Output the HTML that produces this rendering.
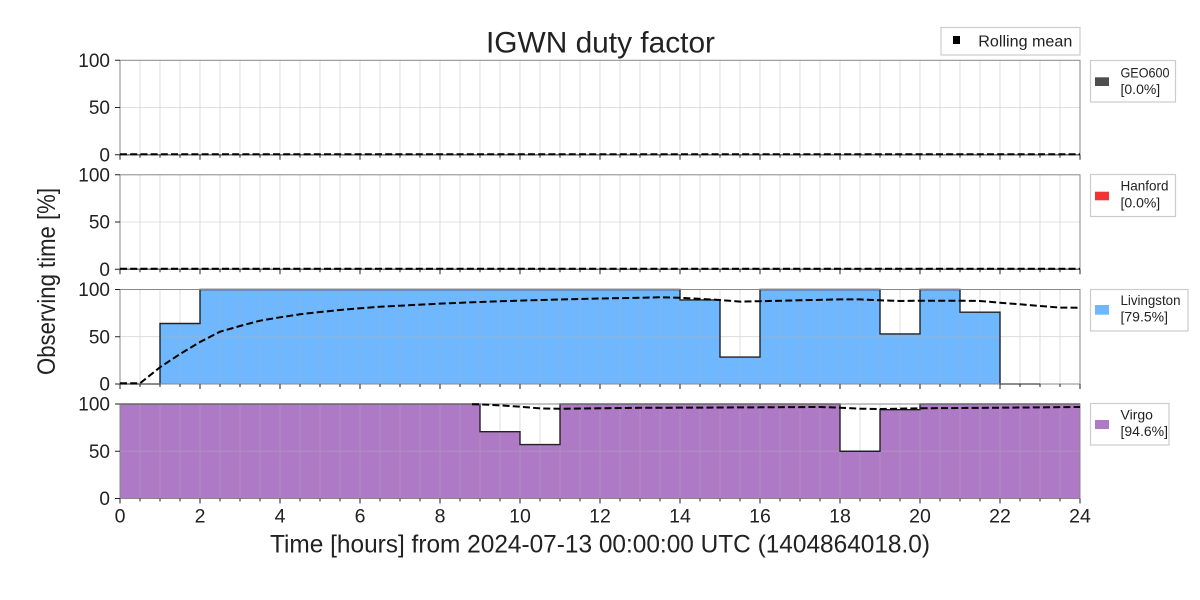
<!DOCTYPE html>
<html><head><meta charset="utf-8"><style>
html,body{margin:0;padding:0;background:#fff;}
svg{display:block;}
text{font-family:"Liberation Sans",sans-serif;fill:#222;}
</style></head><body>
<svg width="1200" height="600" viewBox="0 0 1200 600" xmlns="http://www.w3.org/2000/svg">
<rect width="1200" height="600" fill="#fff"/>
<!-- Title -->
<text x="600.5" y="52.3" font-size="30" text-anchor="middle" textLength="229" lengthAdjust="spacingAndGlyphs">IGWN duty factor</text>

<!-- Rolling mean legend -->
<rect x="941" y="27.5" width="139" height="27.5" fill="#fff" stroke="#cccccc" stroke-width="1.2"/>
<rect x="953" y="36" width="7" height="8" fill="#000"/>
<text x="978.3" y="46.5" font-size="15.5" textLength="94" lengthAdjust="spacingAndGlyphs">Rolling mean</text>

<!-- Panel fills -->
<path d="M160,384 V323.5 H200 V289.5 H680 V299.9 H720 V357.1 H760 V289.5 H880 V333.9 H920 V289.5 H960 V312.2 H1000 V384 Z" fill="#6fb8ff"/>
<path d="M120,498.5 V404 H480 V431.7 H520 V444.6 H560 V404 H840 V451.25 H880 V409.7 H920 V404 H1080 V498.5 Z" fill="#af7ac5"/>

<!-- Grids -->
<g stroke="#b0b0b0" stroke-opacity="0.5" stroke-width="0.8" fill="none">
<path id="vg1" d="M140,60.3V154.8M160,60.3V154.8M180,60.3V154.8M200,60.3V154.8M220,60.3V154.8M240,60.3V154.8M260,60.3V154.8M280,60.3V154.8M300,60.3V154.8M320,60.3V154.8M340,60.3V154.8M360,60.3V154.8M380,60.3V154.8M400,60.3V154.8M420,60.3V154.8M440,60.3V154.8M460,60.3V154.8M480,60.3V154.8M500,60.3V154.8M520,60.3V154.8M540,60.3V154.8M560,60.3V154.8M580,60.3V154.8M600,60.3V154.8M620,60.3V154.8M640,60.3V154.8M660,60.3V154.8M680,60.3V154.8M700,60.3V154.8M720,60.3V154.8M740,60.3V154.8M760,60.3V154.8M780,60.3V154.8M800,60.3V154.8M820,60.3V154.8M840,60.3V154.8M860,60.3V154.8M880,60.3V154.8M900,60.3V154.8M920,60.3V154.8M940,60.3V154.8M960,60.3V154.8M980,60.3V154.8M1000,60.3V154.8M1020,60.3V154.8M1040,60.3V154.8M1060,60.3V154.8M120,107.5H1080"/>
<use href="#vg1" y="114.5"/>
<use href="#vg1" y="229.2"/>
<use href="#vg1" y="343.7"/>
</g>

<!-- Step lines -->
<g stroke="#222" stroke-width="1.4" fill="none">
<path d="M120,154.8 H1080"/>
<path d="M120,269.3 H1080"/>
<path d="M120,384 H160 V323.5 H200 V289.5 H680 V299.9 H720 V357.1 H760 V289.5 H880 V333.9 H920 V289.5 H960 V312.2 H1000 V384 H1040"/>
<path d="M120,404 H480 V431.7 H520 V444.6 H560 V404 H840 V451.25 H880 V409.7 H920 V404 H1080"/>
</g>

<!-- Axes borders -->
<g stroke="#888" stroke-width="1" fill="none">
<rect x="120" y="60.3" width="960" height="94.5"/>
<rect x="120" y="174.8" width="960" height="94.5"/>
<rect x="120" y="289.5" width="960" height="94.5"/>
<rect x="120" y="404" width="960" height="94.5"/>
</g>

<!-- Rolling means -->
<g stroke="#000" stroke-width="2" stroke-dasharray="7,3.2" fill="none">
<path d="M120,154.3 H1080"/>
<path d="M120,268.8 H1080"/>
<polyline points="120,383.3 140,383.3 160,367.3 180,354 200,342 220,331.7 240,326 260,320.7 280,317.3 300,314.3 320,312 340,310 360,308.3 380,306.7 400,305.7 440,303.6 480,302 520,300.6 560,299.5 600,298.5 640,297.8 660,297.3 680,297.8 720,300 740,301.6 760,301.2 800,300.3 840,299.4 860,299.4 880,300.3 900,301 920,300.7 960,300.7 980,301 1000,302.7 1020,304.3 1040,306 1060,307.6 1080,307.7"/>
<polyline points="472,404.2 490,404.8 510,406 520,406.7 540,408.4 560,408.8 600,408.3 640,407.8 700,407.6 760,407.3 820,407 840,407.7 860,408.7 880,409 920,408.3 1000,407.7 1080,407"/>
</g>

<!-- Ticks -->
<g stroke="#222" stroke-width="1" fill="none">
<path id="tk1" d="M120,154.8v5M140,154.8v3M160,154.8v3M180,154.8v3M200,154.8v5M220,154.8v3M240,154.8v3M260,154.8v3M280,154.8v5M300,154.8v3M320,154.8v3M340,154.8v3M360,154.8v5M380,154.8v3M400,154.8v3M420,154.8v3M440,154.8v5M460,154.8v3M480,154.8v3M500,154.8v3M520,154.8v5M540,154.8v3M560,154.8v3M580,154.8v3M600,154.8v5M620,154.8v3M640,154.8v3M660,154.8v3M680,154.8v5M700,154.8v3M720,154.8v3M740,154.8v3M760,154.8v5M780,154.8v3M800,154.8v3M820,154.8v3M840,154.8v5M860,154.8v3M880,154.8v3M900,154.8v3M920,154.8v5M940,154.8v3M960,154.8v3M980,154.8v3M1000,154.8v5M1020,154.8v3M1040,154.8v3M1060,154.8v3M1080,154.8v5M120,60.3h-5M120,107.5h-5M120,154.8h-5"/>
<use href="#tk1" y="114.5"/>
<use href="#tk1" y="229.2"/>
<use href="#tk1" y="343.7"/>
</g>

<!-- Y tick labels -->
<g font-size="19" text-anchor="end">
<text x="110" y="67">100</text><text x="110" y="114.2">50</text><text x="110" y="161.5">0</text>
<text x="110" y="181.5">100</text><text x="110" y="228.7">50</text><text x="110" y="276">0</text>
<text x="110" y="296.2">100</text><text x="110" y="343.4">50</text><text x="110" y="390.7">0</text>
<text x="110" y="410.7">100</text><text x="110" y="457.9">50</text><text x="110" y="505.2">0</text>
</g>

<!-- X tick labels -->
<g font-size="19.5" text-anchor="middle">
<text x="120" y="522.7">0</text><text x="200" y="522.7">2</text><text x="280" y="522.7">4</text><text x="360" y="522.7">6</text><text x="440" y="522.7">8</text><text x="520" y="522.7">10</text><text x="600" y="522.7">12</text><text x="680" y="522.7">14</text><text x="760" y="522.7">16</text><text x="840" y="522.7">18</text><text x="920" y="522.7">20</text><text x="1000" y="522.7">22</text><text x="1080" y="522.7">24</text>
</g>

<!-- Axis labels -->
<text x="600" y="552.3" font-size="25" text-anchor="middle" textLength="660" lengthAdjust="spacingAndGlyphs">Time [hours] from 2024-07-13 00:00:00 UTC (1404864018.0)</text>
<text transform="translate(55,281.5) rotate(-90)" font-size="25" text-anchor="middle" textLength="187" lengthAdjust="spacingAndGlyphs">Observing time [%]</text>

<!-- Side legends -->
<g font-size="14">
<rect x="1090.5" y="60.5" width="85" height="41.5" fill="#fff" stroke="#cccccc" stroke-width="1.2"/>
<rect x="1095" y="77.3" width="14" height="8.7" fill="#4e4e4e"/>
<text x="1120.5" y="77.3" textLength="49" lengthAdjust="spacingAndGlyphs">GEO600</text>
<text x="1120.5" y="94">[0.0%]</text>

<rect x="1090.5" y="174.5" width="85" height="42" fill="#fff" stroke="#cccccc" stroke-width="1.2"/>
<rect x="1095" y="191.7" width="14" height="8.6" fill="#f13333"/>
<text x="1120.5" y="190.7" textLength="48" lengthAdjust="spacingAndGlyphs">Hanford</text>
<text x="1120.5" y="207.3">[0.0%]</text>

<rect x="1090.5" y="289.5" width="97.5" height="41.5" fill="#fff" stroke="#cccccc" stroke-width="1.2"/>
<rect x="1095" y="305" width="14" height="9.7" fill="#6fb8ff"/>
<text x="1120.5" y="305" textLength="60" lengthAdjust="spacingAndGlyphs">Livingston</text>
<text x="1120.5" y="321.7">[79.5%]</text>

<rect x="1090.5" y="403.5" width="78.5" height="41.5" fill="#fff" stroke="#cccccc" stroke-width="1.2"/>
<rect x="1095" y="420" width="14" height="9" fill="#af7ac5"/>
<text x="1120.5" y="419.5">Virgo</text>
<text x="1120.5" y="436">[94.6%]</text>
</g>
</svg>
</body></html>
